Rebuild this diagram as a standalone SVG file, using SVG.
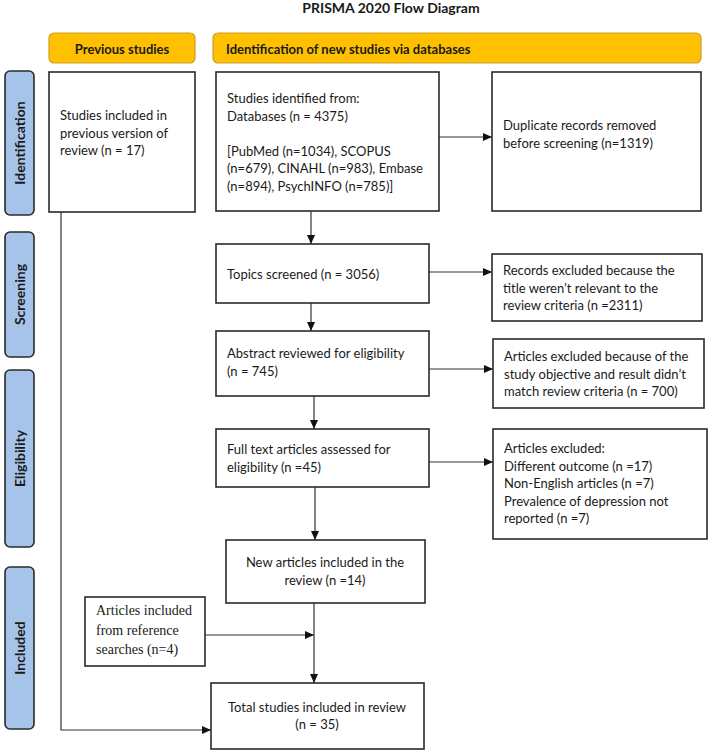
<svg xmlns="http://www.w3.org/2000/svg" width="709" height="750" viewBox="0 0 709 750">
<style>
.t{font-family:Lato,"Noto Sans","Liberation Sans",sans-serif;font-size:13px;fill:#1a1a1a}
.tb{font-family:Lato,"Noto Sans","Liberation Sans",sans-serif;font-size:13px;font-weight:bold;fill:#1a1a1a}
.tl{font-family:Lato,"Noto Sans","Liberation Sans",sans-serif;font-size:14px;font-weight:bold;fill:#1a1a1a}
.ts{font-family:"Liberation Serif","Times New Roman",serif;font-size:14px;fill:#1a1a1a}
.box{fill:#fff;stroke:#2a2a2a;stroke-width:1.6}
.hdr{fill:#FFC000;stroke:#C9A12A;stroke-width:1.2}
.lbl{fill:#A6C4EA;stroke:#2a2a2a;stroke-width:1.6}
.ln{fill:none;stroke:#333;stroke-width:1.2}
</style>
<defs>
<marker id="ah" markerWidth="9" markerHeight="8" refX="9" refY="4" orient="auto" markerUnits="userSpaceOnUse">
<path d="M0,0 L9,4 L0,8 Z" fill="#111"/>
</marker>
</defs>
<rect width="709" height="750" fill="#fff"/>
<text x="391" y="13" text-anchor="middle" class="tb" style="font-size:14px">PRISMA 2020 Flow Diagram</text>

<g id="hdr-prev"><rect class="hdr" x="49" y="33" width="146" height="30" rx="5"/><text class="tb" x="122" y="54" text-anchor="middle">Previous studies</text></g>
<g id="hdr-new"><rect class="hdr" x="213" y="33" width="488" height="30" rx="5"/><text class="tb" x="226" y="54">Identification of new studies via databases</text></g>

<g id="lbl-identification"><rect class="lbl" x="5" y="71" width="29" height="144" rx="5"/><text class="tl" transform="translate(24.5,143) rotate(-90)" text-anchor="middle">Identification</text></g>
<g id="lbl-screening"><rect class="lbl" x="5" y="232" width="29" height="125" rx="5"/><text class="tl" transform="translate(24.5,294.5) rotate(-90)" text-anchor="middle">Screening</text></g>
<g id="lbl-eligibility"><rect class="lbl" x="5" y="370" width="29" height="177" rx="5"/><text class="tl" transform="translate(24.5,458.5) rotate(-90)" text-anchor="middle">Eligibility</text></g>
<g id="lbl-included"><rect class="lbl" x="5" y="567" width="29" height="162" rx="5"/><text class="tl" transform="translate(24.5,648) rotate(-90)" text-anchor="middle">Included</text></g>

<g id="connectors">
<line class="ln" x1="439" y1="137" x2="492" y2="137" marker-end="url(#ah)"/>
<line class="ln" x1="311" y1="211" x2="311" y2="244" marker-end="url(#ah)"/>
<line class="ln" x1="429" y1="272" x2="492" y2="272" marker-end="url(#ah)"/>
<line class="ln" x1="311" y1="303" x2="311" y2="331" marker-end="url(#ah)"/>
<line class="ln" x1="429" y1="369" x2="493" y2="369" marker-end="url(#ah)"/>
<line class="ln" x1="314" y1="396" x2="314" y2="429" marker-end="url(#ah)"/>
<line class="ln" x1="429" y1="462" x2="493" y2="462" marker-end="url(#ah)"/>
<line class="ln" x1="315" y1="487" x2="315" y2="540" marker-end="url(#ah)"/>
<line class="ln" x1="314" y1="603" x2="314" y2="683" marker-end="url(#ah)"/>
<line class="ln" x1="205" y1="635" x2="314" y2="635" marker-end="url(#ah)"/>
<polyline class="ln" points="61,212 61,730 211,730" marker-end="url(#ah)"/>
</g>

<g id="n-previous"><rect class="box" x="49" y="72" width="146" height="140"/>
<text class="t" x="60" y="120">Studies included in</text>
<text class="t" x="60" y="137.5">previous version of</text>
<text class="t" x="60" y="155">review (n = 17)</text></g>

<g id="n-identified"><rect class="box" x="216" y="72" width="223" height="139"/>
<text class="t" x="227" y="103">Studies identified from:</text>
<text class="t" x="227" y="120.5">Databases (n = 4375)</text>
<text class="t" x="227" y="155.5">[PubMed (n=1034), SCOPUS</text>
<text class="t" x="227" y="173">(n=679), CINAHL (n=983), Embase</text>
<text class="t" x="227" y="190.5">(n=894), PsychINFO (n=785)]</text></g>

<g id="n-duplicates"><rect class="box" x="492" y="72" width="209" height="139"/>
<text class="t" x="503" y="130">Duplicate records removed</text>
<text class="t" x="503" y="148">before screening (n=1319)</text></g>

<g id="n-topics"><rect class="box" x="216" y="244" width="213" height="59"/>
<text class="t" x="227" y="279">Topics screened (n = 3056)</text></g>

<g id="n-records-excluded"><rect class="box" x="492" y="254" width="210" height="67"/>
<text class="t" x="503" y="275">Records excluded because the</text>
<text class="t" x="503" y="292.5">title weren’t relevant to the</text>
<text class="t" x="503" y="310">review criteria (n =2311)</text></g>

<g id="n-abstract"><rect class="box" x="216" y="331" width="213" height="65"/>
<text class="t" x="227" y="358">Abstract reviewed for eligibility</text>
<text class="t" x="227" y="376">(n = 745)</text></g>

<g id="n-abstract-excluded"><rect class="box" x="493" y="339" width="211" height="69"/>
<text class="t" x="504" y="361">Articles excluded because of the</text>
<text class="t" x="504" y="378.5">study objective and result didn’t</text>
<text class="t" x="504" y="396">match review criteria (n = 700)</text></g>

<g id="n-fulltext"><rect class="box" x="216" y="429" width="213" height="58"/>
<text class="t" x="227" y="454">Full text articles assessed for</text>
<text class="t" x="227" y="472">eligibility (n =45)</text></g>

<g id="n-fulltext-excluded"><rect class="box" x="493" y="429" width="214" height="110"/>
<text class="t" x="504" y="453">Articles excluded:</text>
<text class="t" x="504" y="470.5">Different outcome (n =17)</text>
<text class="t" x="504" y="488">Non-English articles (n =7)</text>
<text class="t" x="504" y="505.5">Prevalence of depression not</text>
<text class="t" x="504" y="523">reported (n =7)</text></g>

<g id="n-new"><rect class="box" x="226" y="540" width="199" height="63"/>
<text class="t" x="325" y="567" text-anchor="middle">New articles included in the</text>
<text class="t" x="325" y="584.5" text-anchor="middle">review (n =14)</text></g>

<g id="n-reference"><rect class="box" x="85" y="597" width="120" height="69"/>
<text class="ts" x="96" y="615">Articles included</text>
<text class="ts" x="96" y="635">from reference</text>
<text class="ts" x="96" y="654">searches (n=4)</text></g>

<g id="n-total"><rect class="box" x="211" y="683" width="213" height="66"/>
<text class="t" x="317" y="712" text-anchor="middle">Total studies included in review</text>
<text class="t" x="317" y="729" text-anchor="middle">(n = 35)</text></g>
</svg>
